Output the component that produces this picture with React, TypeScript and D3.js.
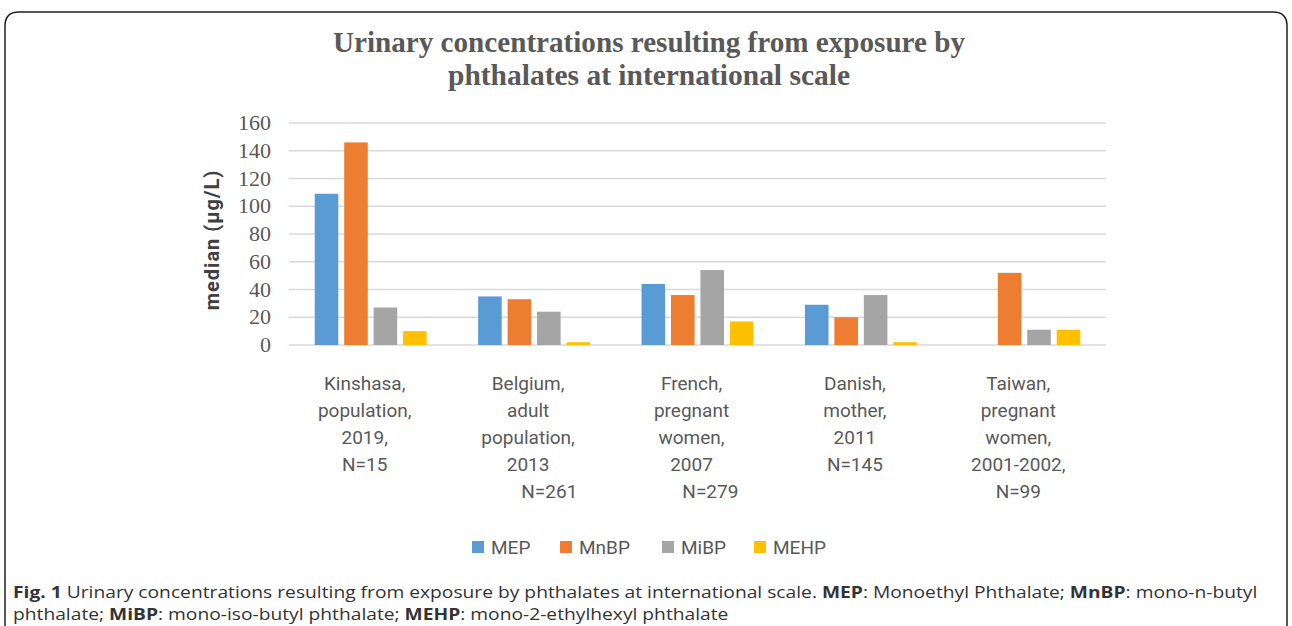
import * as d3 from 'd3'

const categories = [
  ['Kinshasa,', 'population,', '2019,', 'N=15'],
  ['Belgium,', 'adult', 'population,', '2013', '\u00a0\u00a0\u00a0\u00a0\u00a0\u00a0\u00a0\u00a0\u00a0N=261'],
  ['French,', 'pregnant', 'women,', '2007', '\u00a0\u00a0\u00a0\u00a0\u00a0\u00a0\u00a0\u00a0N=279'],
  ['Danish,', 'mother,', '2011', 'N=145'],
  ['Taiwan,', 'pregnant', 'women,', '2001-2002,', 'N=99'],
]
const series = ['MEP', 'MnBP', 'MiBP', 'MEHP']
const mep = [109, 35, 44, 29, 0]
const mnbp = [146, 33, 36, 20, 52]
const mibp = [27, 24, 54, 36, 11]
const mehp = [10, 2, 17, 2, 11]
const yTicks = [0, 20, 40, 60, 80, 100, 120, 140, 160]

const colors = ['#5b9bd5', '#ed7d31', '#a5a5a5', '#ffc000']
const values = [mep, mnbp, mibp, mehp]

const sans = "Roboto, 'Liberation Sans', sans-serif"

export default function App() {
  const W = 1292
  const H = 626
  const plot = { left: 289, right: 1106, top: 123, bottom: 345 }

  const x = d3.scaleBand<number>()
    .domain(categories.map((_, i) => i))
    .range([plot.left, plot.right])
    .paddingInner(0.315)
    .paddingOuter(0.1575)

  const sub = d3.scaleBand<string>()
    .domain(series)
    .range([0, x.bandwidth()])
    .paddingInner(0.2)

  const y = d3.scaleLinear().domain([0, 160]).range([plot.bottom, plot.top])

  const legendX = [472, 560, 662, 754]

  return (
    <svg width={W} height={H} style={{ display: 'block' }}>
      <style>{`body{margin:0}`}</style>
      <rect width={W} height={H} fill="#fff" />
      {/* frame */}
      <path d="M5,640 V26 Q5,12 19,12 H1273 Q1287,12 1287,26 V640" fill="none" stroke="#231f20" strokeWidth={1.5} />

      {/* title */}
      <g fontFamily="'Liberation Serif', serif" fontWeight="bold" fontSize={29} fill="#595959" textAnchor="middle">
        <text x={649} y={52} textLength={632} lengthAdjust="spacingAndGlyphs">Urinary  concentrations resulting from exposure by</text>
        <text x={649} y={85} textLength={402} lengthAdjust="spacingAndGlyphs">phthalates at international scale</text>
      </g>

      {/* grid */}
      {yTicks.map(t => (
        <line key={t} x1={plot.left} x2={plot.right} y1={y(t)} y2={y(t)} stroke="#d9d9d9" strokeWidth={1.5} />
      ))}
      <g fontFamily="'Liberation Serif', serif" fontSize={22} fill="#595959" textAnchor="end">
        {yTicks.map(t => (
          <text key={t} x={271} y={y(t) + 7}>{t}</text>
        ))}
      </g>
      <text
        transform={`translate(219,${(plot.top + plot.bottom) / 2 + 6}) rotate(-90)`}
        textAnchor="middle"
        fontFamily={sans}
        fontWeight="bold"
        fontSize={20}
        letterSpacing={1}
        fill="#404040"
      >median (µg/L)</text>

      {/* bars */}
      {categories.map((_, i) => (
        <g key={i} transform={`translate(${x(i)},0)`}>
          {series.map((s, j) => (
            <rect
              key={s}
              x={sub(s)}
              y={y(values[j][i])}
              width={sub.bandwidth()}
              height={y(0) - y(values[j][i])}
              fill={colors[j]}
            />
          ))}
        </g>
      ))}

      {/* category labels */}
      <g fontFamily={sans} fontSize={19} fill="#595959" textAnchor="middle">
        {categories.map((lines, i) => (
          <text key={i} x={(x(i) ?? 0) + x.bandwidth() / 2 - 6} y={390}>
            {lines.map((l, k) => (
              <tspan key={k} x={(x(i) ?? 0) + x.bandwidth() / 2 - 6} dy={k === 0 ? 0 : 27}>{l}</tspan>
            ))}
          </text>
        ))}
      </g>

      {/* legend */}
      <g fontFamily={sans} fontSize={19} fill="#595959">
        {series.map((s, j) => (
          <g key={s} transform={`translate(${legendX[j]},541)`}>
            <rect width={12} height={12} fill={colors[j]} />
            <text x={19} y={13}>{s}</text>
          </g>
        ))}
      </g>

      {/* caption */}
      <g fontFamily="'Open Sans', sans-serif" fontSize={16.5} fill="#333" transform="translate(13,0) scale(1.165,1)">
        <text x={0} y={598}>
          <tspan fontWeight="bold">Fig. 1</tspan> Urinary concentrations resulting from exposure by phthalates at international scale. <tspan fontWeight="bold">MEP</tspan>: Monoethyl Phthalate; <tspan fontWeight="bold">MnBP</tspan>: mono-n-butyl
        </text>
        <text x={0} y={620}>
          phthalate; <tspan fontWeight="bold">MiBP</tspan>: mono-iso-butyl phthalate; <tspan fontWeight="bold">MEHP</tspan>: mono-2-ethylhexyl phthalate
        </text>
      </g>
    </svg>
  )
}
